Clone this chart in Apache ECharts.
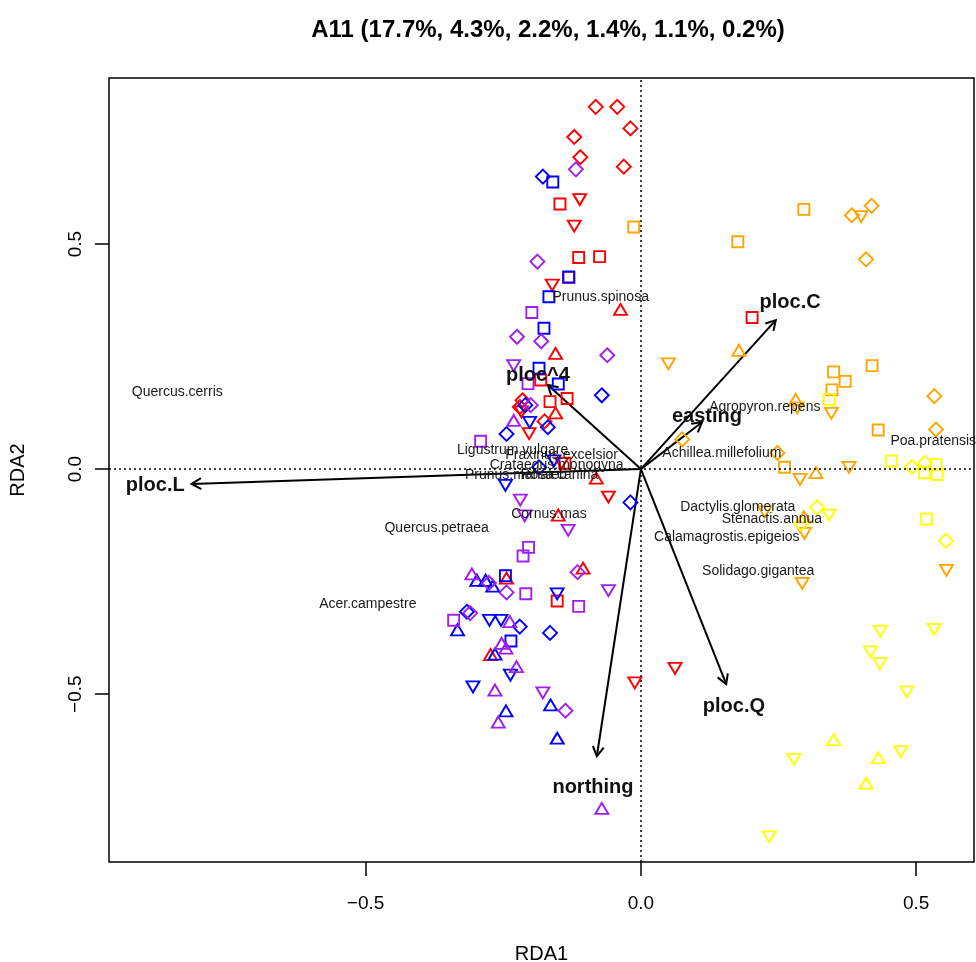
<!DOCTYPE html>
<html><head><meta charset="utf-8">
<script src="https://cdn.jsdelivr.net/npm/echarts@6/dist/echarts.min.js"></script>
<style>html,body{margin:0;padding:0;background:#fff}#c{width:976px;height:962px}</style>
</head><body><div id="c"></div>
<script>
const titleText = 'A11 (17.7%, 4.3%, 2.2%, 1.4%, 1.1%, 0.2%)';
const xTicks = [-0.5, 0, 0.5];
const yTicks = [-0.5, 0, 0.5];

const redDiamond = [[-0.082,0.805],[-0.043,0.805],[-0.019,0.757],[-0.121,0.738],[-0.110,0.693],[-0.031,0.672],[-0.215,0.153],[-0.220,0.138],[-0.175,0.106]];
const redSquare = [[-0.147,0.589],[-0.113,0.470],[-0.075,0.472],[-0.131,0.426],[-0.182,0.198],[-0.165,0.150],[-0.134,0.157],[-0.152,-0.293],[0.202,0.337],[-0.138,0.013]];
const redTriUp = [[-0.037,0.355],[-0.155,0.257],[-0.155,0.125],[-0.081,-0.020],[-0.150,-0.102],[-0.105,-0.220],[-0.244,-0.242],[-0.273,-0.412]];
const redTriDown = [[-0.111,0.599],[-0.121,0.540],[-0.161,0.409],[-0.217,0.127],[-0.203,0.079],[-0.144,0.013],[-0.059,-0.062],[-0.011,-0.475],[0.062,-0.443]];

const blueDiamond = [[-0.178,0.650],[-0.071,0.164],[-0.210,0.142],[-0.169,0.093],[-0.244,0.078],[-0.185,0.004],[-0.019,-0.074],[-0.316,-0.317],[-0.220,-0.350],[-0.165,-0.364]];
const blueSquare = [[-0.160,0.638],[-0.131,0.427],[-0.167,0.383],[-0.176,0.313],[-0.185,0.224],[-0.150,0.189],[-0.246,-0.237],[-0.236,-0.382]];
const blueTriUp = [[-0.298,-0.247],[-0.282,-0.247],[-0.269,-0.260],[-0.333,-0.357],[-0.265,-0.411],[-0.164,-0.524],[-0.245,-0.537],[-0.152,-0.598]];
const blueTriDown = [[-0.202,0.104],[-0.158,0.018],[-0.246,-0.036],[-0.152,-0.277],[-0.275,-0.336],[-0.254,-0.336],[-0.237,-0.458],[-0.305,-0.484]];

const purpleDiamond = [[-0.118,0.666],[-0.188,0.461],[-0.225,0.294],[-0.181,0.284],[-0.061,0.253],[-0.200,0.142],[-0.115,-0.229],[-0.276,-0.253],[-0.244,-0.274],[-0.310,-0.320],[-0.137,-0.537]];
const purpleSquare = [[-0.198,0.348],[-0.205,0.190],[-0.291,0.062],[-0.204,-0.174],[-0.214,-0.193],[-0.209,-0.277],[-0.113,-0.305],[-0.340,-0.336]];
const purpleTriUp = [[-0.231,0.108],[-0.307,-0.233],[-0.238,-0.339],[-0.253,-0.387],[-0.245,-0.398],[-0.226,-0.439],[-0.265,-0.491],[-0.259,-0.562],[-0.071,-0.754]];
const purpleTriDown = [[-0.231,0.230],[-0.219,-0.069],[-0.211,-0.104],[-0.132,-0.136],[-0.059,-0.270],[-0.178,-0.497]];

const orangeSquare = [[-0.013,0.538],[0.296,0.577],[0.176,0.505],[0.350,0.216],[0.420,0.230],[0.371,0.195],[0.347,0.176],[0.431,0.087],[0.261,0.004]];
const orangeDiamond = [[0.383,0.564],[0.419,0.585],[0.409,0.466],[0.533,0.162],[0.536,0.088],[0.075,0.066],[0.248,0.036]];
const orangeTriUp = [[0.178,0.264],[0.281,0.155],[0.318,-0.008],[0.296,-0.106]];
const orangeTriDown = [[0.400,0.561],[0.050,0.234],[0.346,0.124],[0.284,0.136],[0.289,-0.023],[0.378,0.004],[0.225,-0.095],[0.297,-0.143],[0.555,-0.225],[0.293,-0.254]];

const yellowSquare = [[0.342,0.155],[0.455,0.018],[0.536,0.010],[0.515,-0.008],[0.538,-0.012],[0.519,-0.111]];
const yellowDiamond = [[0.492,0.005],[0.516,0.014],[0.320,-0.085],[0.291,-0.121],[0.554,-0.159]];
const yellowTriUp = [[0.350,-0.601],[0.431,-0.641],[0.409,-0.698]];
const yellowTriDown = [[0.342,-0.102],[0.435,-0.360],[0.533,-0.356],[0.417,-0.406],[0.434,-0.432],[0.483,-0.495],[0.472,-0.628],[0.278,-0.645],[0.233,-0.817]];

const arrowNames = ['ploc.L','ploc^4','ploc.C','easting','ploc.Q','northing'];
const arrowX = [-0.816,-0.169,0.245,0.111,0.155,-0.080];
const arrowY = [-0.033,0.187,0.331,0.104,-0.478,-0.638];
const arrowLabelX = [-0.882,-0.187,0.271,0.120,0.169,-0.087];
const arrowLabelY = [-0.036,0.207,0.371,0.118,-0.527,-0.707];

const speciesNames = ['Quercus.cerris','Prunus.spinosa','Ligustrum.vulgare','Fraxinus.excelsior','Crataegus.monogyna','Prunus.mahaleb','Rosa.canina','Cornus.mas','Quercus.petraea','Acer.campestre','Achillea.millefolium','Agropyron.repens','Poa.pratensis','Dactylis.glomerata','Stenactis.annua','Calamagrostis.epigeios','Solidago.gigantea'];
const speciesX = [-0.842,-0.073,-0.233,-0.144,-0.153,-0.227,-0.148,-0.167,-0.371,-0.496,0.147,0.225,0.531,0.176,0.238,0.156,0.213];
const speciesY = [0.171,0.382,0.042,0.031,0.009,-0.013,-0.013,-0.100,-0.131,-0.300,0.036,0.138,0.062,-0.084,-0.111,-0.151,-0.227];

const FONT = '"Liberation Sans", Arial, sans-serif';
const groups = [
  ['#FF0000', redSquare, redDiamond, redTriUp, redTriDown],
  ['#0000FF', blueSquare, blueDiamond, blueTriUp, blueTriDown],
  ['#A020F0', purpleSquare, purpleDiamond, purpleTriUp, purpleTriDown],
  ['#FFA500', orangeSquare, orangeDiamond, orangeTriUp, orangeTriDown],
  ['#FFFF00', yellowSquare, yellowDiamond, yellowTriUp, yellowTriDown]
];
const shapes = [
  {symbol:'rect', size:[11,11], rot:0},
  {symbol:'diamond', size:[14,14], rot:0},
  {symbol:'triangle', size:[13,11], rot:0},
  {symbol:'triangle', size:[13,11], rot:180}
];

const series = [];
series.push({
  type:'scatter', data:[], silent:true,
  markLine:{silent:true, symbol:['none','none'], label:{show:false},
    lineStyle:{color:'#000', type:[2,3], width:1.5},
    data:[{xAxis:0},{yAxis:0}]}
});
groups.forEach(g => {
  for (let k = 0; k < 4; k++) {
    series.push({
      type:'scatter', silent:true, data:g[k+1],
      symbol:shapes[k].symbol, symbolSize:shapes[k].size, symbolRotate:shapes[k].rot,
      itemStyle:{color:'rgba(0,0,0,0)', borderColor:g[0], borderWidth:1.9, opacity:1}
    });
  }
});
series.push({
  type:'scatter', silent:true, symbolSize:0, itemStyle:{color:'rgba(0,0,0,0)'},
  data: speciesNames.map((n,i)=>({value:[speciesX[i],speciesY[i]], name:n})),
  label:{show:true, position:'inside', formatter:'{b}', fontFamily:FONT, fontSize:14, color:'#1a1a1a', opacity:1},
  labelLayout:{hideOverlap:false}
});
series.push({
  type:'custom', silent:true, clip:false,
  data: arrowNames.map((n,i)=>[arrowX[i], arrowY[i]]),
  renderItem:(params, api) => {
    const o = api.coord([0,0]);
    const e = api.coord([api.value(0), api.value(1)]);
    const ang = Math.atan2(e[1]-o[1], e[0]-o[0]);
    const L = 11, a = Math.PI/6;
    const h1 = [e[0]-L*Math.cos(ang-a), e[1]-L*Math.sin(ang-a)];
    const h2 = [e[0]-L*Math.cos(ang+a), e[1]-L*Math.sin(ang+a)];
    return {type:'group', children:[
      {type:'line', shape:{x1:o[0],y1:o[1],x2:e[0],y2:e[1]}, style:{stroke:'#000', lineWidth:2}},
      {type:'polyline', shape:{points:[h1,e,h2]}, style:{stroke:'#000', fill:null, lineWidth:2}}
    ]};
  }
});
series.push({
  type:'scatter', silent:true, symbolSize:0, itemStyle:{color:'rgba(0,0,0,0)'},
  data: arrowNames.map((n,i)=>({value:[arrowLabelX[i],arrowLabelY[i]], name:n})),
  label:{show:true, position:'inside', formatter:'{b}', fontFamily:FONT, fontSize:20, fontWeight:'bold', color:'#111', opacity:1},
  labelLayout:{hideOverlap:false}
});

const fmt = v => { const s = Math.abs(v).toFixed(1); return v < 0 ? '\u2212' + s : s; };

const chart = echarts.init(document.getElementById('c'), null, {renderer:'canvas'});
chart.setOption({
  animation:false,
  backgroundColor:'#fff',
  title:{text:titleText, left:543, top:13, textAlign:'center',
    textStyle:{fontFamily:FONT, fontSize:24, fontWeight:'bold', color:'#000'}},
  grid:{left:109, right:2, top:78, bottom:100, containLabel:false, outerBoundsMode:'none',
    show:true, borderColor:'#000', borderWidth:1.5, backgroundColor:'#fff'},
  xAxis:{type:'value', min:-0.966, max:0.605, position:'bottom',
    axisLine:{show:false, onZero:false}, splitLine:{show:false},
    axisTick:{show:true, customValues:xTicks, length:14, inside:false, lineStyle:{color:'#000', width:1.5}},
    axisLabel:{customValues:xTicks, formatter:fmt, margin:32, fontFamily:FONT, fontSize:19, color:'#000'},
    name:'RDA1', nameLocation:'middle', nameGap:82,
    nameTextStyle:{fontFamily:FONT, fontSize:20, color:'#000'}},
  yAxis:{type:'value', min:-0.873, max:0.869, position:'left',
    axisLine:{show:false, onZero:false}, splitLine:{show:false},
    axisTick:{show:true, customValues:yTicks, length:14, inside:false, lineStyle:{color:'#000', width:1.5}},
    axisLabel:{customValues:yTicks, formatter:fmt, rotate:90, margin:24, fontFamily:FONT, fontSize:19, color:'#000'},
    name:'RDA2', nameLocation:'middle', nameGap:81,
    nameTextStyle:{fontFamily:FONT, fontSize:20, color:'#000'}},
  series:series
});
</script></body></html>
